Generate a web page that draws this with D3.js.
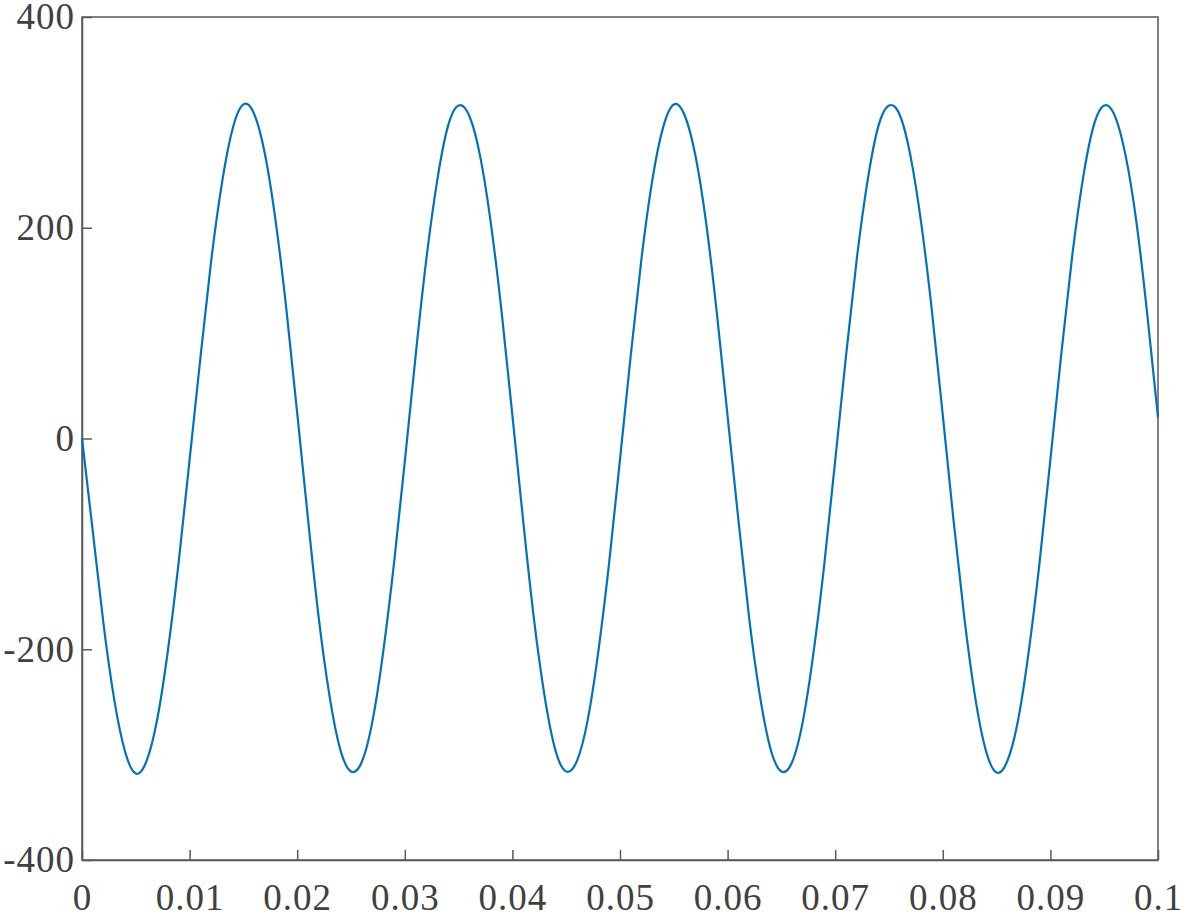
<!DOCTYPE html>
<html>
<head>
<meta charset="utf-8">
<script src="https://cdn.jsdelivr.net/npm/d3@7"></script>
<style>
  body { margin: 0; background: #fff; }
</style>
</head>
<body>
<svg class="chart" width="1181" height="920"></svg>
<script>
// time axis: one sample every 0.001 s
var tStep = 0.001;
var xTicks = [0, 0.01, 0.02, 0.03, 0.04, 0.05, 0.06, 0.07, 0.08, 0.09, 0.1];
var xTickLabels = ['0', '0.01', '0.02', '0.03', '0.04', '0.05', '0.06', '0.07', '0.08', '0.09', '0.1'];
var yTicks = [-400, -200, 0, 200, 400];
var yTickLabels = ['-400', '-200', '0', '200', '400'];

// values, cycle by cycle
var cycle1 = [0, -88, -176, -248, -297, -318, -306, -266, -200, -116, -20, 76, 168, 242, 294, 317, 308, 270, 206, 122, 24];
var cycle2 = [-76, -170, -244, -295, -316, -307, -268, -202, -118, -22, 78, 170, 244, 296, 316, 306, 268, 204, 120, 22];
var cycle3 = [-78, -171, -245, -296, -316, -306, -267, -201, -117, -20, 79, 171, 245, 295, 317, 307, 269, 205, 119, 21];
var cycle4 = [-77, -170, -244, -295, -316, -307, -268, -202, -118, -21, 78, 170, 244, 296, 316, 307, 268, 204, 120, 22];
var cycle5 = [-78, -170, -245, -296, -317, -306, -267, -201, -117, -20, 79, 171, 245, 296, 316, 306, 268, 205, 118, 20];

var values = cycle1.concat(cycle2, cycle3, cycle4, cycle5);
var data = values.map(function(v, i){ return {t: i * tStep, v: v}; });

var margin = {top: 17, right: 23, bottom: 60, left: 82};
var width = 1181 - margin.left - margin.right,
    height = 920 - margin.top - margin.bottom;

var chart = d3.select('.chart')
  .append('g')
  .attr('transform', 'translate(' + margin.left + ',' + margin.top + ')');

var x = d3.scaleLinear().domain([0, 0.1]).range([0, width]);
var y = d3.scaleLinear().domain([-400, 400]).range([height, 0]);

var axisColor = '#595959';

// box
chart.append('rect')
  .attr('width', width)
  .attr('height', height)
  .attr('fill', 'none')
  .attr('stroke', axisColor)
  .attr('stroke-width', 1.5);

var xAxis = d3.axisBottom(x)
  .tickValues(xTicks)
  .tickFormat(function(d, i){ return xTickLabels[i]; })
  .tickSizeInner(-10)
  .tickSizeOuter(0)
  .tickPadding(24);

var yAxis = d3.axisLeft(y)
  .tickValues(yTicks)
  .tickFormat(function(d, i){ return yTickLabels[i]; })
  .tickSizeInner(-10)
  .tickSizeOuter(0)
  .tickPadding(7);

var gx = chart.append('g')
  .attr('class', 'x axis')
  .attr('transform', 'translate(0,' + height + ')')
  .call(xAxis);

var gy = chart.append('g')
  .attr('class', 'y axis')
  .call(yAxis);

[gx, gy].forEach(function(g){
  g.attr('font-family', '"Liberation Serif", "Times New Roman", serif');
  g.select('.domain').attr('stroke', axisColor).attr('stroke-width', 1.5);
  g.selectAll('.tick line').attr('stroke', axisColor).attr('stroke-width', 1.5);
  g.selectAll('.tick text')
    .attr('font-family', '"Liberation Serif", "Times New Roman", serif')
    .attr('font-size', 37)
    .attr('letter-spacing', 1)
    .attr('fill', '#404040');
});

var line = d3.line()
  .x(function(d){ return x(d.t); })
  .y(function(d){ return y(d.v); })
  .curve(d3.curveNatural);

chart.append('path')
  .datum(data)
  .attr('fill', 'none')
  .attr('stroke', '#0072BD')
  .attr('stroke-width', 2.2)
  .attr('d', line);
</script>
</body>
</html>
